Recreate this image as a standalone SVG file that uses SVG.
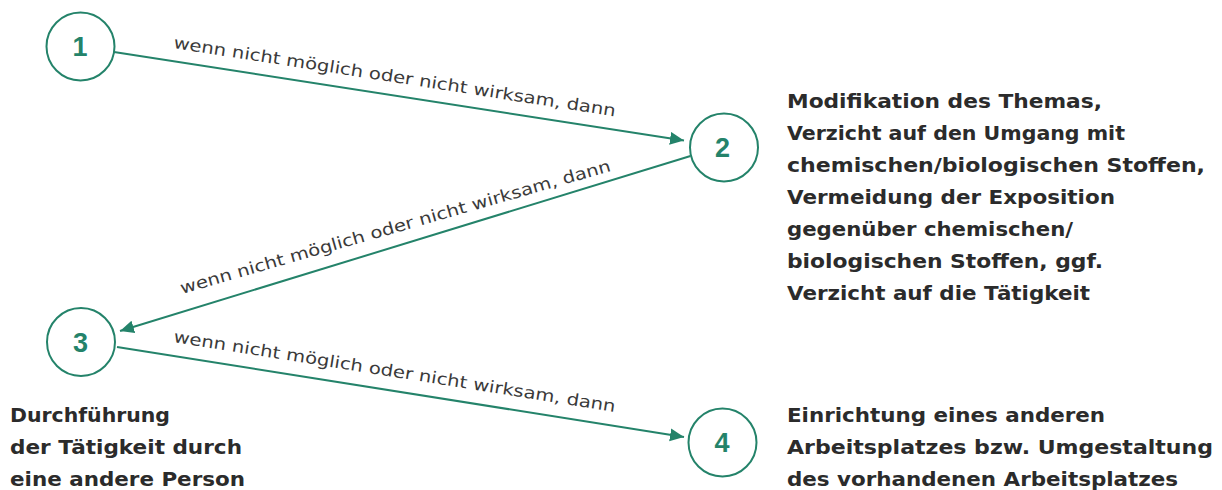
<svg xmlns="http://www.w3.org/2000/svg" width="1222" height="490" viewBox="0 0 1222 490">
<style>
.node circle{fill:#fff;stroke:#24836a;stroke-width:2}
.num{font-family:"Liberation Sans",Arial,sans-serif;font-weight:bold;font-size:27px;fill:#24836a;text-anchor:middle}
.edge{stroke:#24836a;stroke-width:2;fill:none;marker-end:url(#arr)}
.lbl{font-family:"DejaVu Sans","Liberation Sans",sans-serif;font-size:16.5px;fill:#3a3a3a}
.desc{font-family:"DejaVu Sans","Liberation Sans",sans-serif;font-weight:bold;font-size:19.5px;fill:#2b2b2b}
</style>
<defs>
<marker id="arr" markerUnits="userSpaceOnUse" markerWidth="15" markerHeight="14" refX="14" refY="6.5" orient="auto">
<path d="M0,0 L14,6.5 L0,13 z" fill="#24836a"/>
</marker>
</defs>
<g id="connectors">
<line class="edge" x1="114" y1="52" x2="684" y2="140.5"/>
<line class="edge" x1="690.5" y1="156" x2="120" y2="331"/>
<line class="edge" x1="117" y1="347" x2="684" y2="437"/>
<text class="lbl" transform="translate(173,48) rotate(8.8)" textLength="447" lengthAdjust="spacingAndGlyphs">wenn nicht möglich oder nicht wirksam, dann</text>
<text class="lbl" transform="translate(182,294) rotate(-16)" textLength="447" lengthAdjust="spacingAndGlyphs">wenn nicht möglich oder nicht wirksam, dann</text>
<text class="lbl" transform="translate(173,342) rotate(9)" textLength="447" lengthAdjust="spacingAndGlyphs">wenn nicht möglich oder nicht wirksam, dann</text>
</g>
<g id="node1" class="node">
<circle cx="80.5" cy="46.5" r="34"/>
<text class="num" x="80" y="56">1</text>
</g>
<g id="node2" class="node">
<circle cx="724" cy="147.5" r="34"/>
<text class="num" x="722.5" y="157">2</text>
<g class="desc">
<text x="787" y="108" textLength="315" lengthAdjust="spacingAndGlyphs">Modifikation des Themas,</text>
<text x="787" y="140" textLength="338" lengthAdjust="spacingAndGlyphs">Verzicht auf den Umgang mit</text>
<text x="787" y="172" textLength="418" lengthAdjust="spacingAndGlyphs">chemischen/biologischen Stoffen,</text>
<text x="787" y="203.5" textLength="328" lengthAdjust="spacingAndGlyphs">Vermeidung der Exposition</text>
<text x="787" y="235.5" textLength="286" lengthAdjust="spacingAndGlyphs">gegenüber chemischen/</text>
<text x="787" y="267.5" textLength="316" lengthAdjust="spacingAndGlyphs">biologischen Stoffen, ggf.</text>
<text x="787" y="299.5" textLength="303" lengthAdjust="spacingAndGlyphs">Verzicht auf die Tätigkeit</text>
</g>
</g>
<g id="node3" class="node">
<circle cx="81" cy="342" r="34"/>
<text class="num" x="80.5" y="351.5">3</text>
<g class="desc">
<text x="10" y="421.5" textLength="160" lengthAdjust="spacingAndGlyphs">Durchführung</text>
<text x="10" y="453.5" textLength="232" lengthAdjust="spacingAndGlyphs">der Tätigkeit durch</text>
<text x="10" y="485.5" textLength="235" lengthAdjust="spacingAndGlyphs">eine andere Person</text>
</g>
</g>
<g id="node4" class="node">
<circle cx="722.5" cy="442.5" r="34"/>
<text class="num" x="722" y="452">4</text>
<g class="desc">
<text x="787" y="421.5" textLength="318" lengthAdjust="spacingAndGlyphs">Einrichtung eines anderen</text>
<text x="787" y="453.5" textLength="426" lengthAdjust="spacingAndGlyphs">Arbeitsplatzes bzw. Umgestaltung</text>
<text x="787" y="485.5" textLength="391" lengthAdjust="spacingAndGlyphs">des vorhandenen Arbeitsplatzes</text>
</g>
</g>
</svg>
